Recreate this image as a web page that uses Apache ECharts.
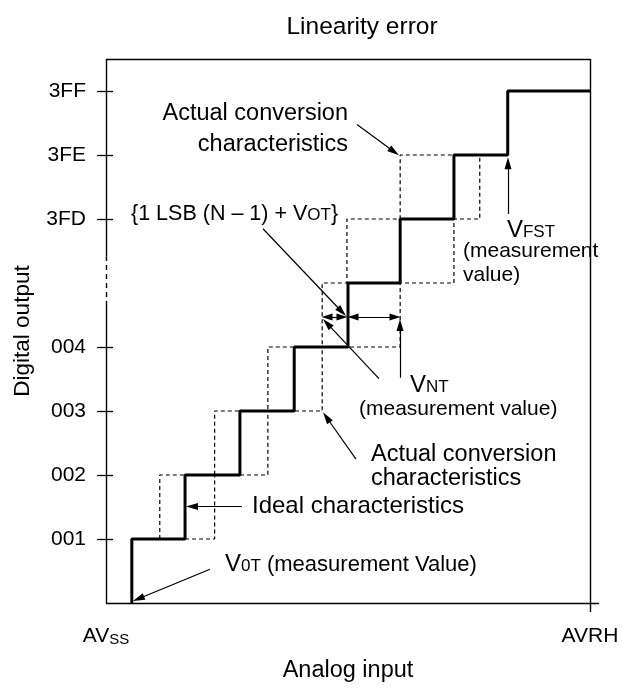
<!DOCTYPE html>
<html><head><meta charset="utf-8">
<script src="https://cdn.jsdelivr.net/npm/echarts@6/dist/echarts.min.js"></script>
<style>html,body{margin:0;padding:0;background:#fff}#c{width:622px;height:688px}</style>
</head><body><div id="c"></div>
<script>
const FONT = '"Liberation Sans", Arial, Helvetica, sans-serif';

// ---- axis ticks ----
const yTickValues = [1, 2, 3, 4, 6, 7, 8];
const yTickLabels = ['001', '002', '003', '004', '3FD', '3FE', '3FF'];
const xTickValues = [0, 9];
const xTickLabels = ['{a|AV}{s|SS}', '{a|AVRH}'];
const xMax = 9, yMax = 8.5;

// ---- staircases: x where each output code begins (in LSB units), and the code ----
const idealX    = [0.48, 1.47, 2.49, 3.50, 4.50, 5.47, 6.47, 7.47, 9.00];
const idealCode = [1, 2, 3, 4, 5, 6, 7, 8, 8];
const earlyX    = [0.48, 1.00, 2.02, 3.01, 4.02, 4.48, 5.47, 6.47];
const earlyCode = [1, 2, 3, 4, 5, 6, 7, 7];
const lateX     = [1.47, 2.02, 3.01, 4.02, 5.47, 6.47, 6.95, 7.47];
const lateCode  = [1, 2, 3, 4, 5, 6, 7, 7];

// ---- frame break on the code axis ----
const breakLow = 4.64, breakHigh = 5.41;

// ---- annotation texts (anchor in data units) ----
const noteText = [
  'Actual conversion\ncharacteristics',
  '{1 LSB (N – 1) + V{s|OT}}',
  '{a|V}{s|NT}',
  '(measurement value)',
  'Actual conversion\ncharacteristics',
  'Ideal characteristics',
  '{a|V}{s|0T}{b| (measurement Value)}',
  '{a|V}{s|FST}',
  '(measurement\nvalue)'
];
const noteAt = [
  [4.50, 7.41], [0.465, 6.08], [5.653, 3.40], [4.704, 3.025],
  [4.927, 2.13], [2.715, 1.505], [2.213, 0.60], [7.456, 5.82], [6.638, 5.31]
];
const noteAlign = ['right', 'left', 'left', 'left', 'left', 'left', 'left', 'left', 'left'];
const noteLineH = [31, 24, 24, 24, 24, 24, 24, 24, 24];
const noteSize  = [23.5, 21.5, 24, 21, 23.5, 24, 22, 24, 21];

// ---- arrows (from -> head centre), data units ----
const arrowFrom = [
  [4.667, 7.476], [2.919, 5.848], [5.467, 3.52], [5.076, 3.505],
  [4.649, 2.249], [2.529, 1.506], [1.934, 0.527], [7.475, 6.08]
];
const arrowTo = [
  [5.357, 7.05], [4.386, 4.551], [5.467, 4.343], [4.111, 4.368],
  [4.100, 2.902], [1.599, 1.506], [0.604, 0.067], [7.475, 6.871]
];
const dblFrom = [[4.109, 4.467], [4.593, 4.467]];
const dblTo   = [[4.388, 4.467], [5.374, 4.467]];

function stairs(xs, cs, start) {
  const d = start ? [start] : [];
  xs.forEach((x, i) => d.push([x, cs[i]]));
  return d;
}

const chart = echarts.init(document.getElementById('c'), null, {renderer: 'canvas'});

const frame = [
  {coords: [[0, 0], [xMax + 0.167, 0]]},
  {coords: [[xMax, -0.14], [xMax, yMax]]},
  {coords: [[0, yMax], [xMax, yMax]]},
  {coords: [[0, 0], [0, breakLow]]},
  {coords: [[0, breakHigh], [0, yMax]]},
  {coords: [[0, breakLow], [0, breakHigh]], lineStyle: {type: [5, 4]}}
];

const option = {
  animation: false,
  backgroundColor: '#fff',
  textStyle: {fontFamily: FONT, color: '#000'},
  title: {
    text: 'Linearity error', left: 357, top: 10, textAlign: 'center',
    textStyle: {fontFamily: FONT, fontSize: 24.5, fontWeight: 'normal', color: '#000'}
  },
  grid: {left: 106, top: 59, width: 484, height: 548},
  xAxis: {
    type: 'value', min: 0, max: xMax,
    axisLine: {show: false}, axisTick: {show: false}, splitLine: {show: false},
    axisLabel: {
      customValues: xTickValues, margin: 22,
      formatter: v => xTickLabels[xTickValues.indexOf(v)],
      rich: {
        a: {fontFamily: FONT, fontSize: 21, color: '#000', verticalAlign: 'bottom', lineHeight: 22},
        s: {fontFamily: FONT, fontSize: 15, color: '#000', verticalAlign: 'bottom', lineHeight: 19}
      }
    },
    name: 'Analog input', nameLocation: 'middle', nameGap: 56,
    nameTextStyle: {fontFamily: FONT, fontSize: 23.5, color: '#000'}
  },
  yAxis: [{
    type: 'value', min: 0, max: yMax,
    axisLine: {show: false}, splitLine: {show: false},
    axisTick: {show: true, customValues: yTickValues, length: 9, lineStyle: {color: '#000', width: 1.3}},
    axisLabel: {
      customValues: yTickValues, margin: 20, fontFamily: FONT, fontSize: 21, color: '#000',
      formatter: v => yTickLabels[yTickValues.indexOf(v)]
    },
    name: 'Digital output', nameLocation: 'middle', nameGap: 72,
    nameTextStyle: {fontFamily: FONT, fontSize: 22.5, color: '#000'}
  }, {
    type: 'value', min: 0, max: yMax, position: 'left',
    axisLine: {show: false}, splitLine: {show: false}, axisLabel: {show: false},
    axisTick: {show: true, inside: true, customValues: yTickValues, length: 7, lineStyle: {color: '#000', width: 1.3}}
  }],
  series: [
    {
      type: 'lines', coordinateSystem: 'cartesian2d', clip: false, z: 2,
      lineStyle: {color: '#000', width: 1.4, opacity: 1, curveness: 0},
      symbol: ['none', 'none'], data: frame
    },
    {
      type: 'line', step: 'end', showSymbol: false, z: 3,
      lineStyle: {color: '#000', width: 1.2, type: [4, 3]},
      data: stairs(earlyX, earlyCode)
    },
    {
      type: 'line', step: 'end', showSymbol: false, z: 3,
      lineStyle: {color: '#000', width: 1.2, type: [4, 3]},
      data: stairs(lateX, lateCode)
    },
    {
      type: 'line', step: 'end', showSymbol: false, z: 4,
      lineStyle: {color: '#000', width: 3},
      data: stairs(idealX, idealCode, [idealX[0], 0])
    },
    {
      type: 'lines', coordinateSystem: 'cartesian2d', clip: false, z: 5,
      lineStyle: {color: '#000', width: 1.2, opacity: 1},
      itemStyle: {color: '#000'},
      symbol: ['none', 'triangle'], symbolSize: [[7, 12], [7, 12]],
      data: arrowFrom.map((f, i) => ({coords: [f, arrowTo[i]]}))
    },
    {
      type: 'lines', coordinateSystem: 'cartesian2d', clip: false, z: 5,
      lineStyle: {color: '#000', width: 1.2, opacity: 1},
      itemStyle: {color: '#000'},
      symbol: ['triangle', 'triangle'], symbolSize: [[7, 11], [7, 11]],
      data: dblFrom.map((f, i) => ({coords: [f, dblTo[i]]}))
    },
    {
      type: 'scatter', symbolSize: 0, z: 6, silent: true,
      itemStyle: {opacity: 1, color: '#000'},
      data: noteAt.map((p, i) => ({
        value: p,
        label: {
          show: true, position: [0, 0], align: noteAlign[i], verticalAlign: 'middle',
          formatter: noteText[i], fontFamily: FONT, fontSize: noteSize[i], color: '#000',
          opacity: 1, lineHeight: noteLineH[i],
          rich: {
            a: {fontFamily: FONT, fontSize: 24, color: '#000'},
            b: {fontFamily: FONT, fontSize: 22, color: '#000'},
            s: {fontFamily: FONT, fontSize: 17, color: '#000', verticalAlign: 'bottom', padding: [0, 0, 2, 0]}
          }
        }
      }))
    }
  ]
};
chart.setOption(option);
</script>
</body></html>
